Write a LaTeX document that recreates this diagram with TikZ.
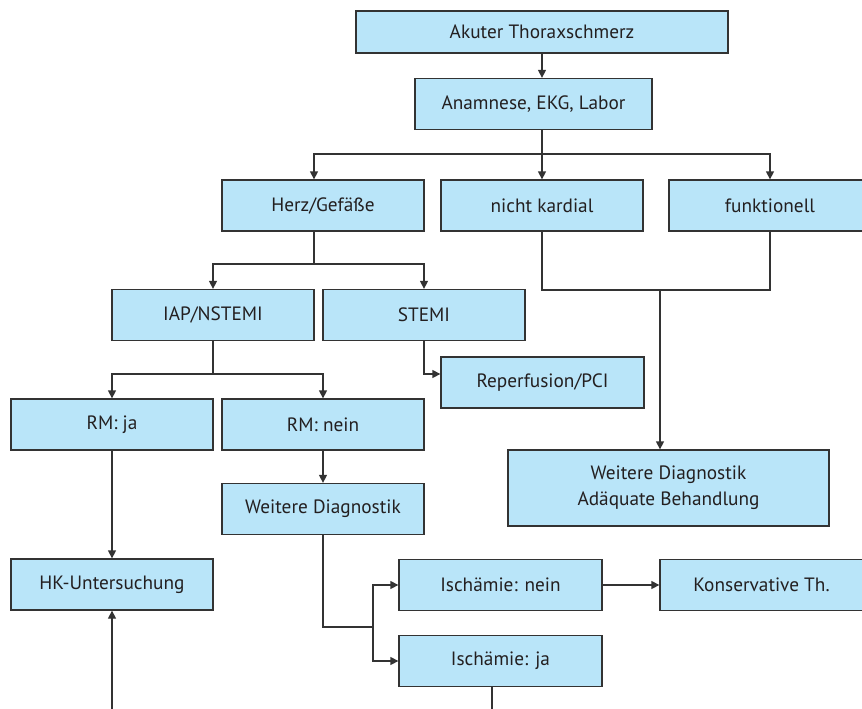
\documentclass[tikz,border=0pt]{standalone}
\usepackage{fontspec}
\setmainfont{PT Sans}
\usetikzlibrary{arrows.meta}
\definecolor{boxfill}{HTML}{B9E5F9}
\definecolor{linec}{HTML}{333333}
\definecolor{textc}{HTML}{231F20}
\begin{document}
\begin{tikzpicture}[x=1pt,y=-1pt,
  flowbox/.style={draw=linec,fill=boxfill,line width=1.3pt,inner sep=0pt,
    minimum width=202pt,minimum height=51pt,align=center,text=textc,
    font=\fontsize{19.3}{26}\selectfont},
  conn/.style={draw=linec,line width=1.3pt},
  arr/.style={conn,-{Triangle[length=8pt,width=8pt]}}]
\clip (0,0) rectangle (862,709);
% nodes
\node[flowbox,minimum width=372pt,minimum height=42pt] (a) at (542,32) {Akuter Thoraxschmerz};
\node[flowbox,minimum width=237pt] (b) at (533.5,104) {Anamnese, EKG, Labor};
\node[flowbox] (c) at (323,205.5) {Herz/Gefäße};
\node[flowbox] (d) at (542,205.5) {nicht kardial};
\node[flowbox] (e) at (770,205.5) {funktionell};
\node[flowbox] (f) at (213,315) {IAP/NSTEMI};
\node[flowbox] (g) at (424,315) {STEMI};
\node[flowbox,minimum width=203pt] (h) at (542.5,382.5) {Reperfusion/PCI};
\node[flowbox] (i) at (112,424.5) {RM: ja};
\node[flowbox] (j) at (323,424.5) {RM: nein};
\node[flowbox] (k) at (323,509) {Weitere Diagnostik};
\node[flowbox,minimum width=321pt,minimum height=76pt] (l) at (668.5,488) {Weitere Diagnostik\\Adäquate Behandlung};
\node[flowbox] (m) at (112,584.5) {HK-Untersuchung};
\node[flowbox,minimum width=203pt] (n) at (500.5,585) {Ischämie: nein};
\node[flowbox,minimum width=203pt] (o) at (761.5,585) {Konservative Th.};
\node[flowbox,minimum width=203pt] (p) at (500.5,661) {Ischämie: ja};
% junction coordinates
\coordinate (bj) at (542,154);
\coordinate (cj) at (314,264);
\coordinate (dj) at (660,290);
\coordinate (fj) at (213,374);
\coordinate (kj) at (373,627);
\coordinate (hkbot) at (112,709);
\coordinate (ijbot) at (492,709);
% connectors
\draw[arr] (a.south) -- (a.south |- b.north);
\draw[conn] (b.south -| bj) -- (bj);
\draw[arr] (bj) -| ([xshift=-9pt]c.north);
\draw[arr] (bj) -- (bj |- d.north);
\draw[arr] (bj) -| (e.north);
\draw[conn] ([xshift=-9pt]c.south) -- (cj);
\draw[arr] (cj) -| (f.north);
\draw[arr] (cj) -| (g.north);
\draw[arr] (g.south) |- ([yshift=8.5pt]h.west);
\draw[conn] (d.south) |- (dj) -| (e.south);
\draw[arr] (dj) -- (dj |- l.north);
\draw[conn] (f.south) -- (fj);
\draw[arr] (fj) -| (i.north);
\draw[arr] (fj) -| (j.north);
\draw[arr] (i.south) -- (m.north);
\draw[arr] (j.south) -- (k.north);
\draw[conn] (k.south) |- (kj);
\draw[arr] (kj) |- (n.west);
\draw[arr] (kj) |- (p.west);
\draw[arr] (n.east) -- (o.west);
\draw[arr] (hkbot) -- (m.south);
\draw[conn] (p.south -| ijbot) -- (ijbot);
\end{tikzpicture}
\end{document}
